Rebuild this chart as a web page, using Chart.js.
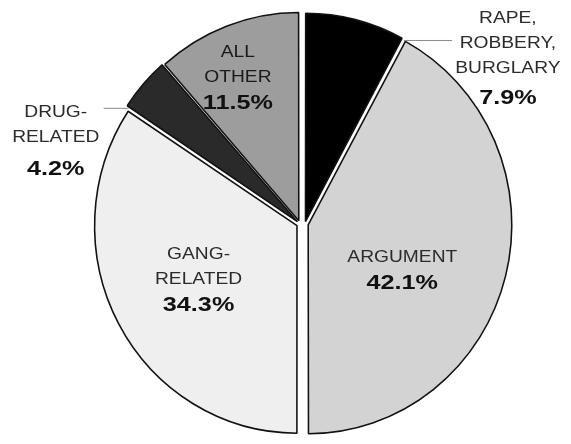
<!DOCTYPE html>
<html>
<head>
<meta charset="utf-8">
<script src="https://cdn.jsdelivr.net/npm/chart.js@4.4.1/dist/chart.umd.min.js"></script>
<style>
  html, body { margin: 0; padding: 0; background: #fff; }
  #wrap { width: 571px; height: 444px; }
</style>
</head>
<body>
<div id="wrap"><canvas id="pie-chart"></canvas></div>
<script>
// data, clockwise from 12 o'clock
const categories = ["RAPE, ROBBERY, BURGLARY", "ARGUMENT", "GANG-RELATED", "DRUG-RELATED", "ALL OTHER"];
const labelLines = [["RAPE,", "ROBBERY,", "BURGLARY"], ["ARGUMENT"], ["GANG-", "RELATED"], ["DRUG-", "RELATED"], ["ALL", "OTHER"]];
const shares = [7.9, 42.1, 34.3, 4.2, 11.5];

const sliceColors = ["#000000", "#d3d3d3", "#efefef", "#2a2a2a", "#9d9d9d"];

// the right half of the pie is pulled a little to the right,
// and the whole pie is a touch narrower than tall (like the print)
const splitShift = {
    id: 'splitShift',
    afterUpdate(chart, args, opts) {
        chart.getDatasetMeta(0).data.forEach(function(arc, i) {
            if (opts.slices.includes(i)) arc.x += opts.dx;
        });
    },
    beforeDatasetsDraw(chart, args, opts) {
        const ctx = chart.ctx;
        const px = (chart.chartArea.left + chart.chartArea.right) / 2;
        ctx.save();
        ctx.translate(px, 0);
        ctx.scale(opts.sx, 1);
        ctx.translate(-px, 0);
    },
    afterDatasetsDraw(chart) {
        chart.ctx.restore();
    }
};

function drawLine(ctx, text, x, y, font, color) {
    ctx.save();
    ctx.translate(x, y);
    ctx.scale(1.2, 1);
    ctx.font = font;
    ctx.fillStyle = color;
    ctx.textAlign = 'center';
    ctx.textBaseline = 'middle';
    ctx.fillText(text, 0, 0);
    ctx.restore();
}

const sliceLabels = {
    id: 'sliceLabels',
    afterDatasetsDraw(chart, args, opts) {
        const ctx = chart.ctx;
        const px = (chart.chartArea.left + chart.chartArea.right) / 2;
        const sx = chart.options.plugins.splitShift.sx;
        chart.getDatasetMeta(0).data.forEach(function(arc, i) {
            const p = opts.place[i];
            const r = arc.outerRadius;
            const cx = arc.x + p.at[0] * r;
            const cy = arc.y + p.at[1] * r;

            if (p.leader) {
                const a = p.leader.side === 'end' ? arc.endAngle : arc.startAngle;
                const x0 = px + (arc.x + Math.cos(a) * r - px) * sx;
                const y0 = arc.y + Math.sin(a) * r;
                ctx.save();
                ctx.strokeStyle = '#8a8a8a';
                ctx.lineWidth = 1;
                ctx.beginPath();
                ctx.moveTo(x0 + p.leader.gap, y0 - 1.5);
                ctx.lineTo(x0 + p.leader.len, y0 - 1.5);
                ctx.stroke();
                ctx.restore();
            }

            const lines = labelLines[i];
            const height = (lines.length - 1) * opts.lineHeight + p.pctGap;
            let y = cy - height / 2;
            lines.forEach(function(t) {
                drawLine(ctx, t, cx, y, opts.wordFont, p.color || '#2b2b2b');
                y += opts.lineHeight;
            });
            y += p.pctGap - opts.lineHeight;
            drawLine(ctx, shares[i].toFixed(1) + '%', cx, y, opts.pctFont, '#111');
        });
    }
};

document.addEventListener("DOMContentLoaded", function() {
    new Chart(document.getElementById("pie-chart"), {
        type: 'pie',
        data: {
            labels: categories,
            datasets: [{
                data: shares,
                backgroundColor: sliceColors,
                borderColor: '#111',
                borderWidth: 1.6,
                offset: [10, 14, 14, 14, 14],
                spacing: 0
            }]
        },
        plugins: [splitShift, sliceLabels],
        options: {
            responsive: true,
            maintainAspectRatio: false,
            animation: false,
            radius: 207,
            layout: { padding: { left: 29, right: 0, top: 4, bottom: 0 } },
            plugins: {
                legend: { display: false },
                tooltip: { enabled: false },
                splitShift: { slices: [0, 1], dx: 5, sx: 0.975 },
                sliceLabels: {
                    lineHeight: 25,
                    wordFont: '16px "Liberation Sans", Arial, sans-serif',
                    pctFont: 'bold 21px "Liberation Sans", Arial, sans-serif',
                    place: [
                        { at: [0.98, -0.80], pctGap: 30, leader: { side: 'end', gap: 3, len: 51 } },
                        { at: [0.47, 0.225], pctGap: 26 },
                        { at: [-0.49, 0.27], pctGap: 26 },
                        { at: [-1.18, -0.40], pctGap: 32, leader: { side: 'start', gap: -3, len: -28 } },
                        { at: [-0.30, -0.705], pctGap: 25, color: '#1a1a1a' }
                    ]
                }
            }
        }
    });
});
</script>
</body>
</html>
